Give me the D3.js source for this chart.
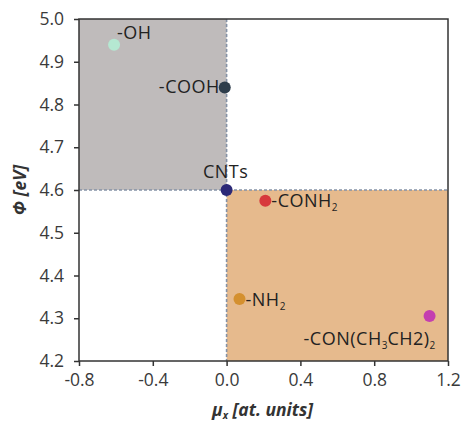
<!DOCTYPE html>
<html>
<head>
<meta charset="utf-8">
<script src="https://cdn.jsdelivr.net/npm/d3@7"></script>
<style>
  body { margin: 0; background: #fff; }
  .tick text { font-family: "Open Sans", sans-serif; font-size: 17.5px; fill: #3a3a3a; }
  .pt-label { font-family: "Open Sans", "Liberation Sans", sans-serif; font-size: 18px; fill: #222; letter-spacing: 0.5px; }
  .ax-title { font-family: "Open Sans", sans-serif; font-size: 17.5px; font-weight: bold; font-style: italic; fill: #333; }
</style>
</head>
<body>
<div id="chart"></div>
<script>
// data
const groups = ["-OH", "-COOH", "CNTs", "-CONH2", "-NH2", "-CON(CH3CH2)2"];
const muValues = [-0.61, -0.01, 0.0, 0.21, 0.07, 1.10];
const phiValues = [4.94, 4.84, 4.60, 4.575, 4.345, 4.305];
const pointColors = ["#b5e8d2", "#2e3d4b", "#2b2877", "#d7393c", "#d4902f", "#c43fb0"];
const xTicks = [-0.8, -0.4, 0.0, 0.4, 0.8, 1.2];
const yTicks = [4.2, 4.3, 4.4, 4.5, 4.6, 4.7, 4.8, 4.9, 5.0];

const margin = {top: 19, right: 15, bottom: 62, left: 79};
const width = 463 - margin.left - margin.right;
const height = 423 - margin.top - margin.bottom;

const svg = d3.select("#chart").append("svg")
    .attr("width", 463)
    .attr("height", 423)
    .append("g")
    .attr("transform", "translate(" + margin.left + "," + margin.top + ")");

const x = d3.scaleLinear().domain([-0.8, 1.2]).range([0, width]);
const y = d3.scaleLinear().domain([4.2, 5.0]).range([height, 0]);

// shaded quadrants
svg.append("rect")
    .attr("x", x(-0.8)).attr("y", y(5.0))
    .attr("width", x(0) - x(-0.8)).attr("height", y(4.6) - y(5.0))
    .attr("fill", "#bfbbbb");
svg.append("rect")
    .attr("x", x(0)).attr("y", y(4.6))
    .attr("width", x(1.2) - x(0)).attr("height", y(4.2) - y(4.6))
    .attr("fill", "#e6ba8d");

// dashed reference lines
svg.append("line")
    .attr("x1", x(-0.8)).attr("x2", x(1.2))
    .attr("y1", y(4.6)).attr("y2", y(4.6))
    .attr("stroke", "#8592a6").attr("stroke-width", 1.6)
    .attr("stroke-dasharray", "3,2");
svg.append("line")
    .attr("x1", x(0)).attr("x2", x(0))
    .attr("y1", y(5.0)).attr("y2", y(4.2))
    .attr("stroke", "#8592a6").attr("stroke-width", 1.6)
    .attr("stroke-dasharray", "3,2");

// frame
svg.append("rect")
    .attr("width", width).attr("height", height)
    .attr("fill", "none").attr("stroke", "#333").attr("stroke-width", 1.5);

const fmt = d => d3.format(".1f")(d).replace("−", "-");
const xAxis = svg.append("g")
    .attr("transform", "translate(0," + height + ")")
    .call(d3.axisBottom(x).tickValues(xTicks).tickFormat(fmt).tickSize(5).tickPadding(8));
const yAxis = svg.append("g")
    .call(d3.axisLeft(y).tickValues(yTicks).tickFormat(fmt).tickSize(5).tickPadding(10));
[xAxis, yAxis].forEach(a => {
    a.select(".domain").remove();
    a.selectAll(".tick line").attr("stroke", "#333").attr("stroke-width", 1.5);
});

// points
const pts = groups.map((g, i) => ({name: g, mu: muValues[i], phi: phiValues[i], color: pointColors[i]}));
svg.selectAll(".pt").data(pts).enter().append("circle")
    .attr("class", "pt")
    .attr("cx", d => x(d.mu))
    .attr("cy", d => y(d.phi))
    .attr("r", 6)
    .attr("fill", d => d.color);

// point labels (offsets relative to each point)
const labelPos = {
    "-OH": {dx: 3, dy: -6, anchor: "start"},
    "-COOH": {dx: -5, dy: 6, anchor: "end"},
    "CNTs": {dx: -1, dy: -12, anchor: "middle"},
    "-CONH2": {dx: 6, dy: 6, anchor: "start"},
    "-NH2": {dx: 6, dy: 7, anchor: "start"},
    "-CON(CH3CH2)2": {dx: -126, dy: 29, anchor: "start"}
};
// [text, baseline shift]: 4 = subscript, 0 = normal
const subParts = {
    "-CONH2": [["-CONH", 0], ["2", 4]],
    "-NH2": [["-NH", 0], ["2", 4]],
    "-CON(CH3CH2)2": [["-CON(CH", 0], ["3", 4], ["CH", 0], ["2", 0], [")", 0], ["2", 4]]
};
pts.forEach(d => {
    const p = labelPos[d.name];
    const t = svg.append("text")
        .attr("class", "pt-label")
        .attr("x", x(d.mu) + p.dx)
        .attr("y", y(d.phi) + p.dy)
        .attr("text-anchor", p.anchor);
    const parts = subParts[d.name] || [[d.name, 0]];
    let cur = 0;
    parts.forEach(([s, shift]) => {
        const ts = t.append("tspan").text(s).attr("dy", shift - cur);
        if (shift) ts.style("font-size", "10px").style("letter-spacing", "0px");
        cur = shift;
    });
});

// axis titles
svg.append("text")
    .attr("class", "ax-title")
    .attr("transform", "translate(-53," + (height / 2) + ") rotate(-90)")
    .attr("text-anchor", "middle")
    .text("Φ [eV]");
const xt = svg.append("text")
    .attr("class", "ax-title")
    .attr("x", width / 2 - 1)
    .attr("y", height + 55)
    .attr("text-anchor", "middle");
xt.append("tspan").text("μ");
xt.append("tspan").text("x").attr("dy", 3).style("font-size", "10px");
xt.append("tspan").text(" [at. units]").attr("dy", -3);
</script>
</body>
</html>
